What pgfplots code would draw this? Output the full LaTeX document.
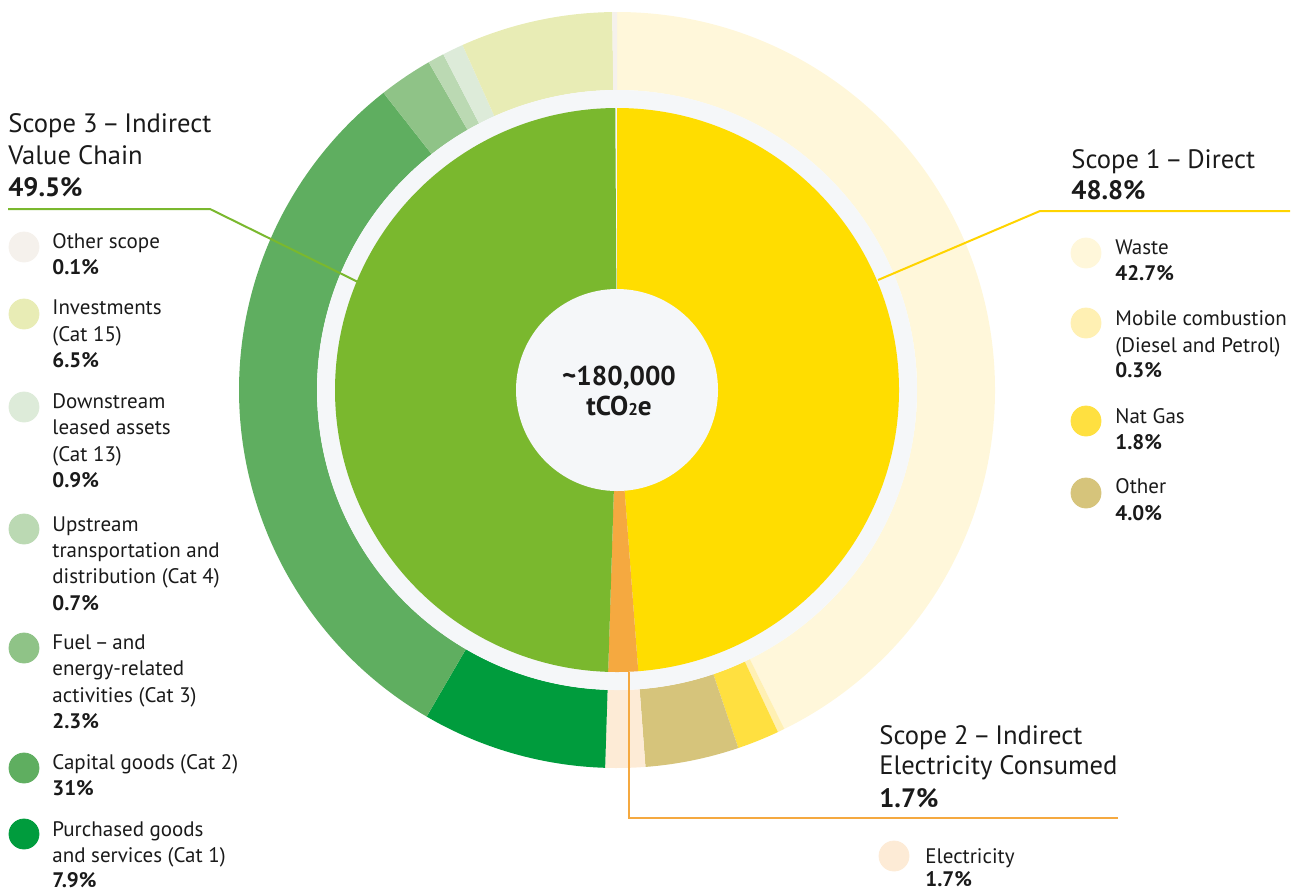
\documentclass[border=0pt]{standalone}
\usepackage{pgfplots}
\pgfplotsset{compat=1.18}
\usepackage{fontspec}
\setmainfont{PT Sans}
\definecolor{txt}{HTML}{1A1A1A}
\definecolor{yellowI}{HTML}{FFDD00}
\definecolor{orangeI}{HTML}{F5A940}
\definecolor{greenI}{HTML}{7AB82E}
\definecolor{waste}{HTML}{FFF7DA}
\definecolor{mobile}{HTML}{FFF0B3}
\definecolor{natgas}{HTML}{FFE040}
\definecolor{otherK}{HTML}{D6C47B}
\definecolor{elec}{HTML}{FDEBD6}
\definecolor{purch}{HTML}{009C3D}
\definecolor{capital}{HTML}{5FAE60}
\definecolor{fuel}{HTML}{8FC387}
\definecolor{upstream}{HTML}{BBD9B3}
\definecolor{downstream}{HTML}{DDEBD9}
\definecolor{invest}{HTML}{E8ECB5}
\definecolor{othersc}{HTML}{F5F1EC}
\definecolor{ringgrey}{HTML}{F5F7F9}
% centre of the donut in pixel units (y downwards), 1 unit = 0.5pt
\newcommand{\cx}{617}
\newcommand{\cy}{390}
% ring slice: #1 colour, #2 start (%), #3 value (%), #4 inner radius, #5 outer radius
\newcommand{\ringslice}[5]{%
 \fill[#1] (axis cs:{\cx+#4*sin(3.6*(#2))},{\cy-#4*cos(3.6*(#2))})
   -- (axis cs:{\cx+#5*sin(3.6*(#2))},{\cy-#5*cos(3.6*(#2))})
   arc[start angle={90-3.6*(#2)}, end angle={90-3.6*(#2+#3)}, radius=#5*0.5pt]
   -- (axis cs:{\cx+#4*sin(3.6*(#2+#3))},{\cy-#4*cos(3.6*(#2+#3))})
   arc[start angle={90-3.6*(#2+#3)}, end angle={90-3.6*(#2)}, radius=#4*0.5pt]
   -- cycle;}
% pie wedge: #1 colour, #2 start, #3 value, #4 radius
\newcommand{\piewedge}[4]{%
 \fill[#1] (axis cs:\cx,\cy)
   -- (axis cs:{\cx+#4*sin(3.6*(#2))},{\cy-#4*cos(3.6*(#2))})
   arc[start angle={90-3.6*(#2)}, end angle={90-3.6*(#2+#3)}, radius=#4*0.5pt]
   -- cycle;}
\newcommand{\hdtxt}[3]{\node[anchor=base west,inner sep=0pt,text=txt,font=\fontsize{13.3}{16}\selectfont] at (axis cs:#1,#2) {#3};}
\newcommand{\hdbold}[3]{\node[anchor=base west,inner sep=0pt,text=txt,font=\fontsize{13.3}{16}\selectfont\bfseries] at (axis cs:#1,#2) {#3};}
\newcommand{\legtxt}[3]{\node[anchor=base west,inner sep=0pt,text=txt,font=\fontsize{10.5}{13}\selectfont] at (axis cs:#1,#2) {#3};}
\newcommand{\legbold}[3]{\node[anchor=base west,inner sep=0pt,text=txt,font=\fontsize{10.5}{13}\selectfont\bfseries] at (axis cs:#1,#2) {#3};}
\newcommand{\legdot}[3]{\addplot[only marks, mark=*, mark size=7.5pt, color=#1, forget plot] coordinates {(#2,#3)};}
\newcommand{\dsh}{\hspace{0.17em}–\hspace{0.17em}}
\begin{document}
\begin{tikzpicture}
\path[use as bounding box, clip] (0,0) rectangle (649.5pt,445.5pt);
\begin{axis}[at={(0,0)}, anchor=south west, width=649.5pt, height=445.5pt,
  scale only axis, xmin=0, xmax=1299, ymin=0, ymax=891, y dir=reverse,
  hide axis, clip=false]
% outer ring (start %, value %)
\ringslice{waste}{0}{42.7}{300}{378}
\ringslice{mobile}{42.7}{0.3}{300}{378}
\ringslice{natgas}{43.0}{1.8}{300}{378}
\ringslice{otherK}{44.8}{4.0}{300}{378}
\ringslice{elec}{48.8}{1.7}{300}{378}
\ringslice{purch}{50.5}{7.9}{300}{378}
\ringslice{capital}{58.4}{31.0}{300}{378}
\ringslice{fuel}{89.4}{2.3}{300}{378}
\ringslice{upstream}{91.7}{0.7}{300}{378}
\ringslice{downstream}{92.4}{0.9}{300}{378}
\ringslice{invest}{93.3}{6.5}{300}{378}
\ringslice{othersc}{99.8}{0.2}{300}{378}
% grey gap ring
\fill[ringgrey] (axis cs:\cx,\cy) circle[radius=150pt];
% inner pie (start %, value %)
\piewedge{yellowI}{0}{48.8}{282}
\piewedge{orangeI}{48.8}{1.7}{282}
\piewedge{greenI}{50.5}{49.4}{282}
\fill[ringgrey] (axis cs:\cx,\cy) circle[radius=50.5pt];
% centre text
\node[anchor=base,inner sep=0pt,text=txt,font=\fontsize{13.6}{16}\selectfont\bfseries] at (axis cs:619,385) {\textasciitilde180,000};
\node[anchor=base,inner sep=0pt,text=txt,font=\fontsize{13.6}{16}\selectfont\bfseries] at (axis cs:619,415) {tCO{\fontsize{8.5}{8.5}\selectfont 2}e};
% leader lines
\addplot[greenI, line width=1pt, forget plot] coordinates {(8,209) (210,209) (358,282)};
\addplot[yellowI!90!orange, line width=1pt, forget plot] coordinates {(1290,211) (1040,211) (878,280)};
\addplot[orangeI, line width=1pt, forget plot] coordinates {(1118,818) (629,818) (629,672)};
% Scope 3 header
\hdtxt{8}{132}{Scope 3\dsh Indirect}
\hdtxt{8}{164}{Value Chain}
\hdbold{8}{196}{49.5\%}
% Scope 3 legend
\legdot{othersc}{24}{247}
\legtxt{52}{248}{Other scope}
\legbold{52}{274}{0.1\%}
\legdot{invest}{24}{314}
\legtxt{52}{314}{Investments}
\legtxt{52}{341}{(Cat 15)}
\legbold{52}{367}{6.5\%}
\legdot{downstream}{24}{407}
\legtxt{52}{408}{Downstream}
\legtxt{52}{434}{leased assets}
\legtxt{52}{461}{(Cat 13)}
\legbold{52}{487}{0.9\%}
\legdot{upstream}{24}{529}
\legtxt{52}{531}{Upstream}
\legtxt{52}{557}{transportation and}
\legtxt{52}{583}{distribution (Cat 4)}
\legbold{52}{610}{0.7\%}
\legdot{fuel}{24}{648}
\legtxt{52}{649}{Fuel\dsh and}
\legtxt{52}{675}{energy-related}
\legtxt{52}{702}{activities (Cat 3)}
\legbold{52}{728}{2.3\%}
\legdot{capital}{24}{768}
\legtxt{52}{769}{Capital goods (Cat 2)}
\legbold{52}{795}{31\%}
\legdot{purch}{24}{834}
\legtxt{52}{836}{Purchased goods}
\legtxt{52}{862}{and services (Cat 1)}
\legbold{52}{887}{7.9\%}
% Scope 1 header and legend
\hdtxt{1071}{168}{Scope 1\dsh Direct}
\hdbold{1071}{199}{48.8\%}
\legdot{waste}{1086}{253}
\legtxt{1115}{254}{Waste}
\legbold{1115}{280}{42.7\%}
\legdot{mobile}{1086}{323}
\legtxt{1115}{325}{Mobile combustion}
\legtxt{1115}{352}{(Diesel and Petrol)}
\legbold{1115}{377}{0.3\%}
\legdot{natgas}{1086}{421}
\legtxt{1115}{423}{Nat Gas}
\legbold{1115}{449}{1.8\%}
\legdot{otherK}{1086}{493}
\legtxt{1115}{493}{Other}
\legbold{1115}{520}{4.0\%}
% Scope 2 header and legend
\hdtxt{879}{744}{Scope 2\dsh Indirect}
\hdtxt{879}{774}{Electricity Consumed}
\hdbold{879}{807}{1.7\%}
\legdot{elec}{894}{856}
\legtxt{925}{863}{Electricity}
\legbold{925}{886}{1.7\%}
\end{axis}
\end{tikzpicture}
\end{document}
